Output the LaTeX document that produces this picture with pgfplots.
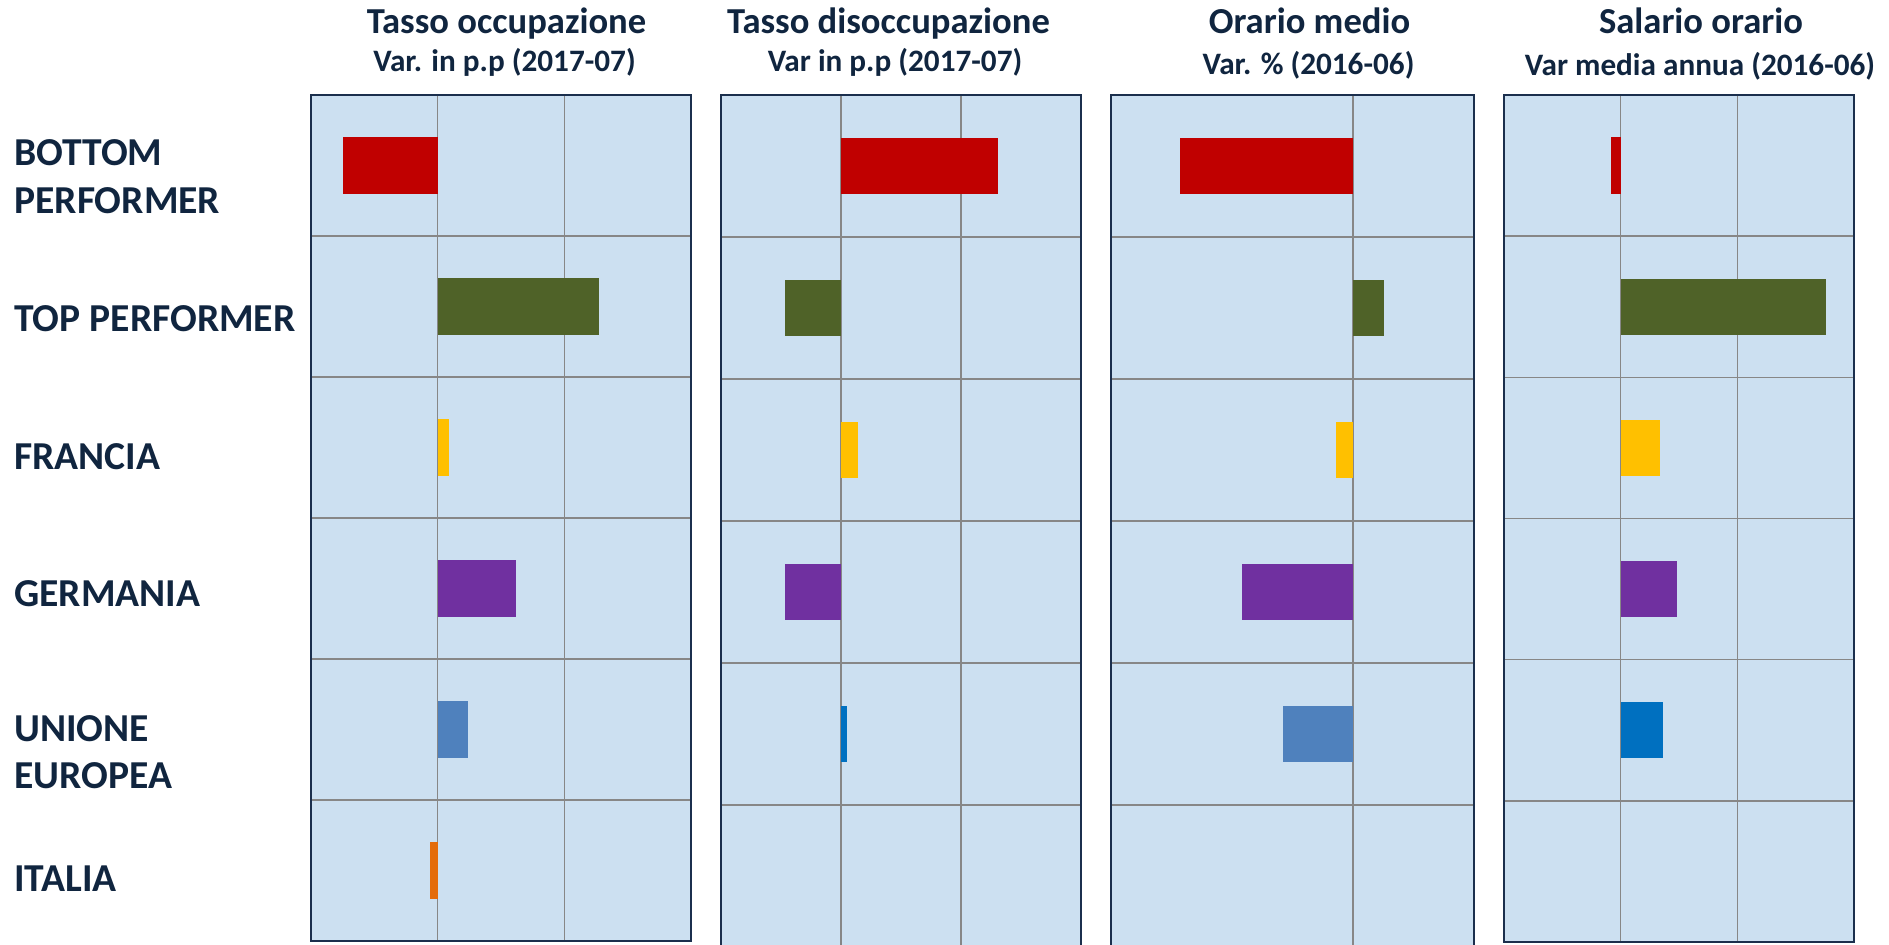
\documentclass[border=0pt]{standalone}
\usepackage{pgfplots}
\pgfplotsset{compat=1.18}
\usepackage{fontspec}
\setmainfont{Carlito}
\definecolor{navy}{HTML}{10253F}
\definecolor{bord}{HTML}{1B2F4D}
\definecolor{bg}{HTML}{CCE0F1}
\definecolor{gridc}{HTML}{878787}
\definecolor{cB}{HTML}{C00000}
\definecolor{cT}{HTML}{4F6228}
\definecolor{cF}{HTML}{FFC000}
\definecolor{cG}{HTML}{7030A0}
\definecolor{cU}{HTML}{4F81BD}
\definecolor{cUb}{HTML}{0070C0}
\definecolor{cI}{HTML}{E46C0A}
\pgfplotsset{
  panel/.style={scale only axis, anchor=north west, y dir=reverse,
    ymin=-0.5, ymax=5.5, ytick={0.5,1.5,2.5,3.5,4.5}, yticklabels={}, xticklabels={},
    xmajorgrids, ymajorgrids, major tick length=0pt,
    grid style={gridc, line width=0.8pt},
    axis background/.style={fill=bg},
    axis line style={bord, line width=1.3pt}},
  mybar/.style={xbar, bar width=0.4, bar shift=0pt, draw=none, fill=#1}
}
\begin{document}
\begin{tikzpicture}
\useasboundingbox (0,0) rectangle (944.5pt,472pt);
% Titles
\begin{scope}[every node/.style={text=navy, inner sep=0pt}]
\node[anchor=base, font=\fontsize{18.3}{22}\selectfont\bfseries] at (253.25pt,455pt) {Tasso occupazione};
\node[anchor=base, font=\fontsize{15.6}{19}\selectfont\bfseries] at (252.25pt,436pt) {Var. in p.p (2017-07)};
\node[anchor=base, font=\fontsize{18.3}{22}\selectfont\bfseries] at (444.25pt,455pt) {Tasso disoccupazione};
\node[anchor=base, font=\fontsize{15.6}{19}\selectfont\bfseries] at (447.5pt,436pt) {Var in p.p (2017-07)};
\node[anchor=base, font=\fontsize{18.3}{22}\selectfont\bfseries] at (654.75pt,455pt) {Orario medio};
\node[anchor=base, font=\fontsize{15.6}{19}\selectfont\bfseries] at (654.25pt,434.5pt) {Var. \% (2016-06)};
\node[anchor=base, font=\fontsize{18.3}{22}\selectfont\bfseries] at (850.5pt,455pt) {Salario orario};
\node[anchor=base, font=\fontsize{15.6}{19}\selectfont\bfseries] at (850pt,434pt) {Var media annua (2016-06)};
% Category labels
\begin{scope}[every node/.append style={anchor=base west, font=\fontsize{19.8}{24}\selectfont\bfseries}]
\node at (7pt,389pt) {BOTTOM};
\node at (7pt,365pt) {PERFORMER};
\node at (7pt,306pt) {TOP PERFORMER};
\node at (7pt,237.5pt) {FRANCIA};
\node at (7pt,169pt) {GERMANIA};
\node at (7pt,101.5pt) {UNIONE};
\node at (7pt,78pt) {EUROPEA};
\node at (7pt,26.5pt) {ITALIA};
\end{scope}
\end{scope}
% Panel 1: Tasso occupazione
\begin{axis}[panel, at={(155.5pt,424.5pt)}, width=190pt, height=423pt,
  xmin=-1, xmax=2, xtick={0,1}]
\addplot[mybar=cB] coordinates {(-0.75,0)};
\addplot[mybar=cT] coordinates {(1.27,1)};
\addplot[mybar=cF] coordinates {(0.09,2)};
\addplot[mybar=cG] coordinates {(0.62,3)};
\addplot[mybar=cU] coordinates {(0.24,4)};
\addplot[mybar=cI] coordinates {(-0.06,5)};
\end{axis}
% Panel 2: Tasso disoccupazione
\begin{axis}[panel, at={(360.5pt,424.5pt)}, width=180pt, height=426pt,
  xmin=-1, xmax=2, xtick={0,1}]
\addplot[mybar=cB] coordinates {(1.31,0)};
\addplot[mybar=cT] coordinates {(-0.47,1)};
\addplot[mybar=cF] coordinates {(0.14,2)};
\addplot[mybar=cG] coordinates {(-0.47,3)};
\addplot[mybar=cUb] coordinates {(0.05,4)};
\end{axis}
% Panel 3: Orario medio
\begin{axis}[panel, at={(555.5pt,424.5pt)}, width=181.5pt, height=426pt,
  xmin=-2, xmax=1, xtick={0}]
\addplot[mybar=cB] coordinates {(-1.43,0)};
\addplot[mybar=cT] coordinates {(0.26,1)};
\addplot[mybar=cF] coordinates {(-0.14,2)};
\addplot[mybar=cG] coordinates {(-0.92,3)};
\addplot[mybar=cU] coordinates {(-0.58,4)};
\end{axis}
% Panel 4: Salario orario
\begin{axis}[panel, at={(752pt,424.5pt)}, width=175pt, height=423.5pt,
  xmin=-1, xmax=2, xtick={0,1}]
\addplot[mybar=cB] coordinates {(-0.08,0)};
\addplot[mybar=cT] coordinates {(1.76,1)};
\addplot[mybar=cF] coordinates {(0.34,2)};
\addplot[mybar=cG] coordinates {(0.48,3)};
\addplot[mybar=cUb] coordinates {(0.36,4)};
\end{axis}
\end{tikzpicture}
\end{document}
